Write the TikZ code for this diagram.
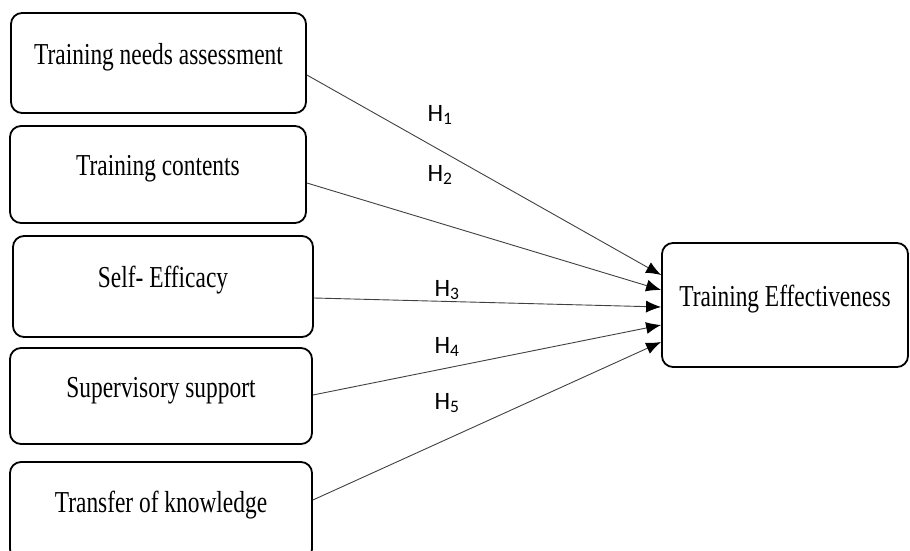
\documentclass[tikz,border=0pt]{standalone}
\usepackage{fontspec}
\setmainfont{Liberation Serif}
\newfontfamily\hfont{Carlito}
\usetikzlibrary{positioning,arrows.meta}

\newcommand{\tall}[1]{\scalebox{1}[1.3]{#1}}

\begin{document}
\begin{tikzpicture}[x=1pt, y=-1pt,
    box/.style={draw, line width=1.8pt, rounded corners=11pt, inner sep=0pt,
        font=\fontsize{23.4}{28}\selectfont, text height=21pt, text depth=19pt},
    link/.style={-{Latex[length=15pt,width=12pt,black]}, line width=0.9pt, black!75},
    hyp/.style={font=\hfont\fontsize{25}{28}\selectfont}]
    \useasboundingbox (0,0) rectangle (910,551);

    % factors
    \node[box, minimum width=295pt, minimum height=100pt] (tna) at (158.5,63) {\tall{Training needs assessment}};
    \node[box, minimum width=296pt, minimum height=97pt] (tc) at (158,174.5) {\tall{Training contents}};
    \node[box, minimum width=300pt, minimum height=101pt] (se) at (163,286.5) {\tall{Self- Efficacy}};
    \node[box, minimum width=302pt, minimum height=96pt] (ss) at (161,396) {\tall{Supervisory support}};
    \node[box, minimum width=302pt, minimum height=98pt] (tk) at (161,511) {\tall{Transfer of knowledge}};

    % outcome
    \node[box, minimum width=246pt, minimum height=124pt] (te) at (785,305) {\tall{Training Effectiveness}};

    \draw[link] ([yshift=-12pt]tna.east) -- ([yshift=30pt]te.west);
    \draw[link] ([yshift=-8.5pt]tc.east) -- ([yshift=15pt]te.west);
    \draw[link] ([yshift=-11.5pt]se.east) -- ([yshift=-2pt]te.west);
    \draw[link] ([yshift=1pt]ss.east) -- ([yshift=-20pt]te.west);
    \draw[link] ([yshift=11pt]tk.east) -- ([yshift=-37pt]te.west);

    \node[hyp] (h1) at (440,115) {H\textsubscript{1}};
    \node[hyp] (h2) at (440,175) {H\textsubscript{2}};
    \node[hyp] (h3) at (447,290) {H\textsubscript{3}};
    \node[hyp] (h4) at (447,347) {H\textsubscript{4}};
    \node[hyp] (h5) at (447,403) {H\textsubscript{5}};
\end{tikzpicture}
\end{document}
